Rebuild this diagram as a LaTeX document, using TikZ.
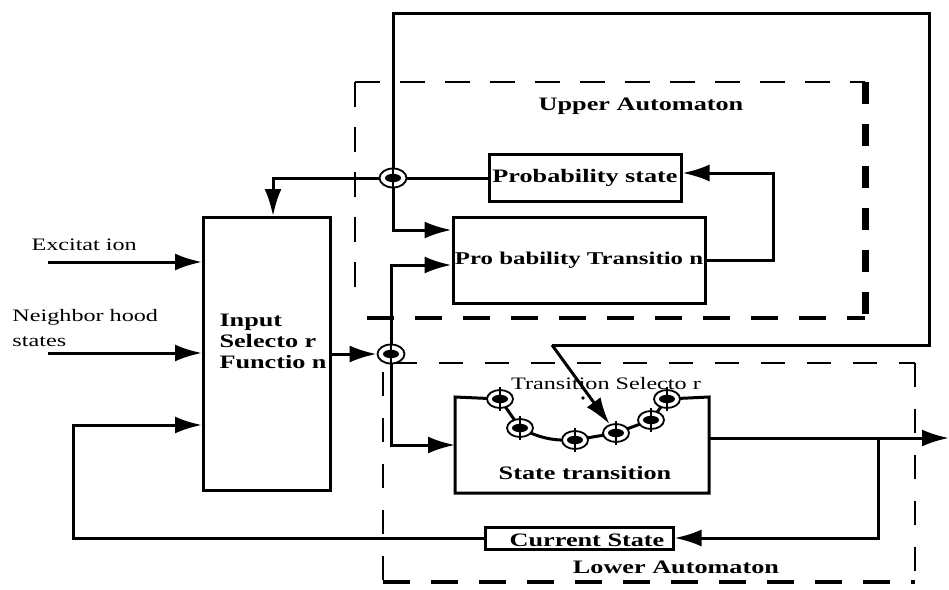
\documentclass[tikz,border=0pt]{standalone}
\usepackage{fontspec}
\newfontfamily\diafont[FakeStretch=1.38]{Liberation Serif}
\usetikzlibrary{arrows.meta,shapes.geometric}
\begin{document}
\begin{tikzpicture}[x=1pt,y=-1pt,line width=3pt,
    arr/.style={-{Latex[length=27pt,width=17pt]}},
    txt/.style={font=\diafont\fontsize{17.5}{25}\selectfont,inner sep=0pt},
    btxt/.style={font=\diafont\bfseries\fontsize{19}{21}\selectfont,inner sep=0pt},
    blk/.style={draw,inner sep=0pt},
    junc/.style={ellipse,draw,fill=white,line width=1.8pt,minimum width=27pt,minimum height=19pt,inner sep=0pt},
    sdash/.style={line width=2.2pt,dash pattern=on 24pt off 22pt},
    ldash/.style={line width=2.8pt,dash pattern=on 25pt off 20pt},
    mdash/.style={line width=3.6pt,dash pattern=on 27pt off 21pt},
    hdash/.style={line width=7pt,dash pattern=on 22pt off 20pt}]
\useasboundingbox (0,0) rectangle (949,589);

% automaton frames
\draw[ldash] (355,82) -- (865,82);
\draw[ldash] (355,82) -- (355,305);
\draw[mdash] (367,318) -- (865,318);
\draw[hdash] (865,82) -- (865,318);
\draw[sdash] (393,363) -- (915,363);
\draw[sdash] (383,372) -- (383,589);
\draw[sdash] (915,363) -- (915,582);
\draw[mdash] (383,582) -- (915,582);

% blocks
\node[blk,minimum width=127pt,minimum height=273pt] (inbox) at (267,354) {};
\node[btxt,align=left,anchor=west] (inlbl) at (218,341) {Input\\Selecto r\\Functio n};
\node[blk,btxt,minimum width=192pt,minimum height=47pt] (ps) at (585,178) {Probability state};
\node[blk,btxt,font=\diafont\bfseries\fontsize{18}{21}\selectfont,minimum width=252pt,minimum height=86pt] (pt) at (579,260) {Pro bability Transitio n};
\node[minimum width=251pt,minimum height=93pt,inner sep=0pt] (st) at (582,445) {};
\node[btxt] (stlbl) at (585,473) {State transition};
\node[blk,minimum width=188pt,minimum height=22pt] (cs) at (579,538) {};
\node[btxt,anchor=base] (cslbl) at (587,546) {Current State};

% labels
\node[btxt] (upper) at (641,106) {Upper Automaton};
\node[btxt] (lower) at (676,567) {Lower Automaton};
\node[txt] (tsel) at (606,384) {Transition Selecto r};
\node[txt,anchor=west] (excit) at (30,245) {Excitat ion};
\node[txt,anchor=west,align=left] (neigh) at (11,328) {Neighbor hood\\states};
\fill (583,398) circle (1.8pt);

% junction points
\coordinate (ja) at (393,178);
\coordinate (jb) at (391,354);
\coordinate (s1) at (500,399);
\coordinate (s2) at (520,428);
\coordinate (s3) at (575,440);
\coordinate (s4) at (616,433);
\coordinate (s5) at (651,420);
\coordinate (s6) at (667,399);
\coordinate (exin) at (48,262);
\coordinate (nbin) at (48,353);
\coordinate (fb) at (73,425);
\coordinate (loopne) at (929,13);
\coordinate (selin) at (552,345);
\coordinate (psfb) at (773,173);
\coordinate (brk) at (878,438);
\coordinate (out) at (949,438);

% state transition outline and selector
\draw (s1) -- (st.north west) -- (st.south west) -- (st.south east) -- (st.north east) -- (s6);
\draw (s1) -- (s2) to[bend right=15] (s3) -- (s4) -- (s5) -- (s6);

% connectors
\draw[arr] (exin) -- (exin -| inbox.west);
\draw[arr] (nbin) -- (nbin -| inbox.west);
\draw[arr] (cs.west) -| (fb) -- (fb -| inbox.west);
\draw[arr] (ps.west) -- (ja) -| ([xshift=6pt]inbox.north);
\draw[arr] (ja) |- ([yshift=30pt]pt.west);
\draw[arr] (jb) |- ([yshift=-5pt]pt.west);
\draw[arr] (jb) |- (st.west);
\draw (ja) |- (loopne) |- (selin);
\draw[arr] (pt.east) -| (psfb) -- (psfb -| ps.east);
\draw[arr] ([yshift=7pt]st.east) -- (out);
\draw[arr] (brk) |- (cs.east);

% junctions on top
\node[junc] (jan) at (ja) {};
\node[junc] (jbn) at (jb) {};
\foreach \s in {1,...,6}
    \node[junc,minimum width=26pt,minimum height=18pt] (s\s n) at (s\s) {};
\foreach \j in {jan,jbn,s1n,s2n,s3n,s4n,s5n,s6n} {
    \fill (\j.center) ellipse (8pt and 4.2pt);
    \draw[line width=1.4pt] ([yshift=2pt]\j.north) -- ([yshift=-2pt]\j.south);
}
\draw[arr] (jb -| inbox.east) -- (jbn);
\draw[arr] (selin) -- (s4n);
\end{tikzpicture}
\end{document}
